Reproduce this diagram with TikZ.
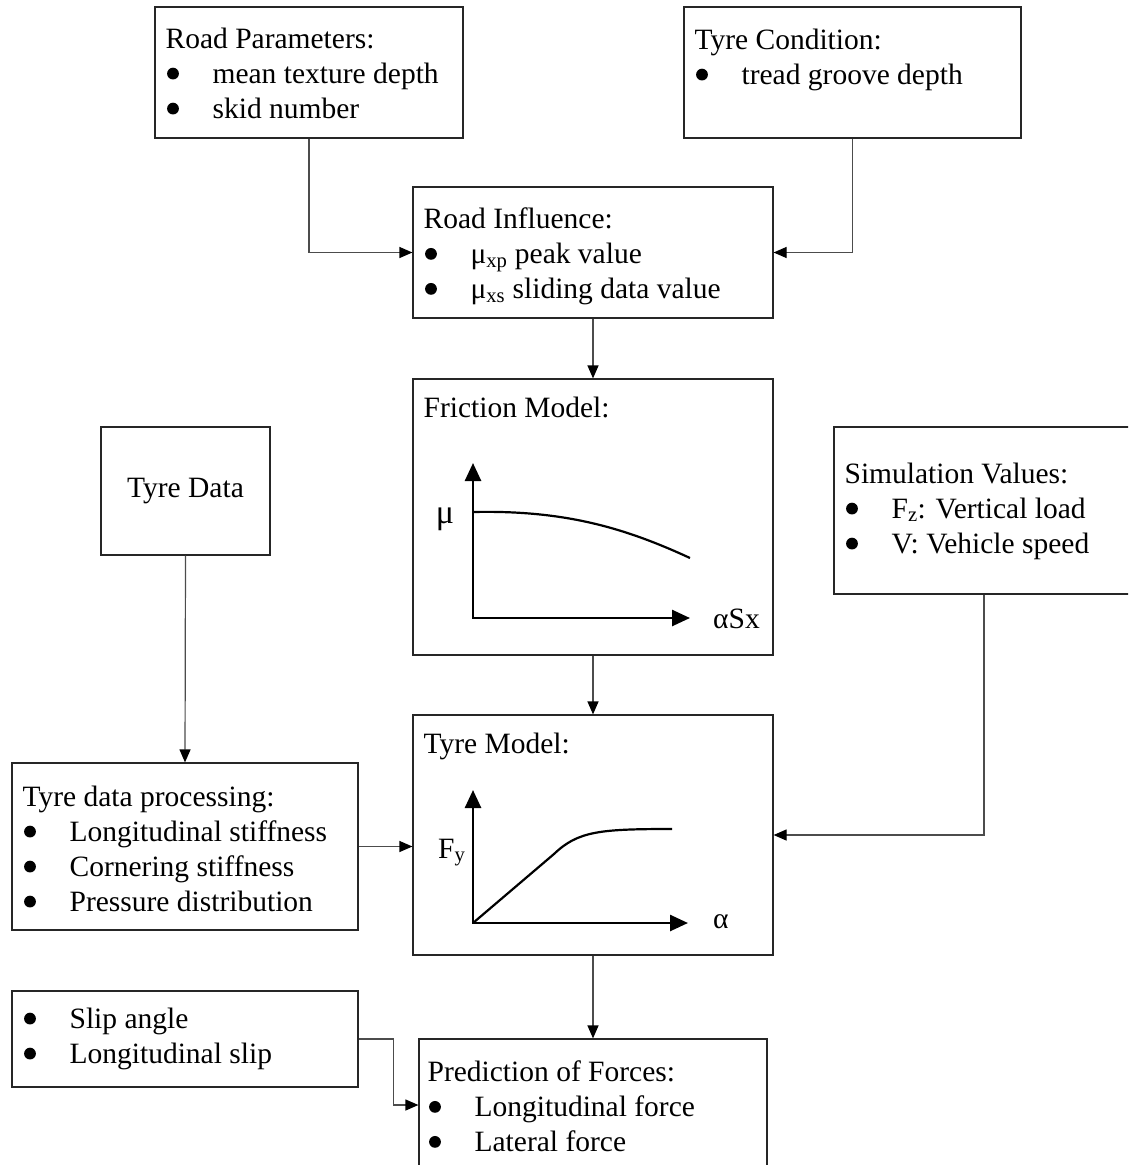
\documentclass[tikz,border=0pt]{standalone}
\usepackage{fontspec}
\setmainfont{Liberation Serif}
\usetikzlibrary{arrows.meta}
\newcommand{\dotmark}{\raisebox{3.6pt}{\tikz\fill[black] (0,0) circle (5.9pt);}}
\newcommand{\itm}[1]{\makebox[47pt][l]{\hspace{1.5pt}\dotmark}#1}

\begin{document}
\begin{tikzpicture}[x=1pt,y=1pt,
  box/.style={draw=black!85, line width=1.2pt, inner sep=0pt, font=\fontsize{29.5}{35}\selectfont},
  txt/.style={anchor=north west, inner sep=0pt, align=left, font=\fontsize{29.5}{35}\selectfont},
  lbl/.style={inner sep=0pt, font=\fontsize{29.5}{35}\selectfont},
  link/.style={draw=black!70, line width=1.2pt, -{Triangle[length=13pt,width=11pt,color=black]}},
  axisline/.style={line width=2.6pt, line join=miter, {Triangle[length=18pt,width=16pt]}-{Triangle[length=18pt,width=16pt]}},
  curveline/.style={line width=2.2pt}]
\clip (0,0) rectangle (1128,-1165);

\node[box, minimum width=308pt, minimum height=131pt] (rp) at (309,-72.5) {};
\node[txt] (rptxt) at ([shift={(11,-21)}]rp.north west) {Road Parameters:\\ \itm{mean texture depth}\\ \itm{skid number}};

\node[box, minimum width=337pt, minimum height=131pt] (tc) at (852.5,-72.5) {};
\node[txt] (tctxt) at ([shift={(11,-22)}]tc.north west) {Tyre Condition:\\ \itm{tread groove depth}};

\node[box, minimum width=360pt, minimum height=131pt] (ri) at (593,-252.5) {};
\node[txt] (ritxt) at ([shift={(11,-21)}]ri.north west) {Road Influence:\\ \itm{μ\textsubscript{xp} peak value}\\ \itm{μ\textsubscript{xs} sliding data value}};

\node[box, minimum width=360pt, minimum height=276pt] (fm) at (593,-517) {};
\node[txt] (fmtxt) at ([shift={(11,-18)}]fm.north west) {Friction Model:};
\draw[axisline] (473,-463) -- (473,-618) -- (690,-618);
\draw[curveline] (473,-512) .. controls (565,-510) and (625,-528) .. (690,-558);
\node[lbl, anchor=base, font=\fontsize{34}{35}\selectfont] (mu) at (445,-523) {μ};
\node[lbl, anchor=base west] (asx) at (713,-628) {αSx};

\node[box, minimum width=169pt, minimum height=128pt] (td) at (185.5,-491) {Tyre Data};

\node[box, minimum width=300pt, minimum height=167pt] (sv) at (984,-510.5) {};
\node[txt] (svtxt) at ([shift={(11,-36)}]sv.north west) {Simulation Values:\\ \itm{F\textsubscript{z}: Vertical load}\\ \itm{V: Vehicle speed}};

\node[box, minimum width=346pt, minimum height=167pt] (tdp) at (185,-846.5) {};
\node[txt] (tdptxt) at ([shift={(11,-23)}]tdp.north west) {Tyre data processing:\\ \itm{Longitudinal stiffness}\\ \itm{Cornering stiffness}\\ \itm{Pressure distribution}};

\node[box, minimum width=360pt, minimum height=240pt] (tm) at (593,-835) {};
\node[txt] (tmtxt) at ([shift={(11,-18)}]tm.north west) {Tyre Model:};
\draw[axisline] (473,-790) -- (473,-923) -- (688,-923);
\draw[curveline] (473,-923) -- (554,-854) .. controls (578,-831) and (600,-829) .. (672,-829);
\node[lbl, anchor=base west] (fy) at (438,-858) {F\textsubscript{y}};
\node[lbl, anchor=base west] (al) at (713,-928) {α};

\node[box, minimum width=346pt, minimum height=96pt] (sl) at (185,-1039) {};
\node[txt] (sltxt) at ([shift={(11,-17)}]sl.north west) {\itm{Slip angle}\\ \itm{Longitudinal slip}};

\node[box, minimum width=348pt, minimum height=132pt] (pf) at (593,-1105) {};
\node[txt] (pftxt) at ([shift={(9,-22)}]pf.north west) {Prediction of Forces:\\ \itm{Longitudinal force}\\ \itm{Lateral force}};

\draw[link] (rp.south) |- (ri.west);
\draw[link] (tc.south) |- (ri.east);
\draw[link] (ri.south) -- (fm.north);
\draw[link] (fm.south) -- (tm.north);
\draw[link] (td.south) -- (tdp.north);
\draw[link] (tdp.east) -- (tdp.east -| tm.west);
\draw[link] (sv.south) |- (tm.east);
\draw[link] (tm.south) -- (pf.north);
\draw[link] (sl.east) -- ([xshift=35pt]sl.east) |- (pf.west);
\end{tikzpicture}
\end{document}
